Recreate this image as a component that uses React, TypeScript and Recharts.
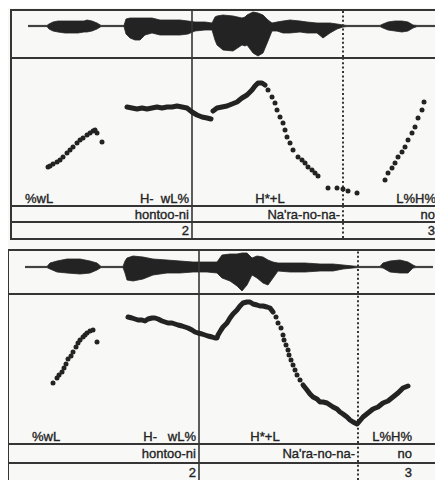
import React from 'react';
import { ComposedChart, Area, Line, Scatter, XAxis, YAxis, ReferenceLine } from 'recharts';

type Pt = [number, number];

// ---------- upper panel ----------
// waveform envelope (time, upper amplitude, lower amplitude)
const wave1T = [17, 36, 38, 42, 47, 54, 61, 67, 73, 76, 81, 86, 90, 113, 115, 119, 124, 129, 134, 141, 149, 159, 169, 177, 184, 194, 201, 204, 206, 212, 222, 231, 234, 236, 242, 247, 252, 257, 261, 266, 272, 279, 289, 296, 306, 312, 319, 326, 332, 336, 369, 372, 377, 384, 391, 397, 402, 406, 424];
const wave1Hi = [0.6, 0.6, 2, 4, 5, 5, 5, 5, 5, 6, 5, 3, 0.6, 0.6, 7, 8, 8, 8, 8, 8, 6, 6, 6, 5, 4, 4, 3, 9, 10, 11, 10, 8, 9, 11, 14, 13, 11, 6, 3, 4, 5, 6, 5, 4, 3, 3, 3, 2, 1, 0.6, 0.6, 2, 4, 5, 5, 4, 1, 0.6, 0.6];
const wave1Lo = [-0.6, -0.6, -3, -5, -6, -7, -7, -7, -6, -6, -5, -3, -0.6, -0.6, -8, -12, -14, -14, -9, -7, -9, -9, -9, -8, -5, -4, -4, -14, -19, -24, -25, -19, -20, -19, -27, -30, -27, -15, -5, -5, -7, -7, -6, -7, -7, -12, -7, -3, -1, -0.6, -0.6, -2, -4, -5, -6, -5, -2, -0.6, -0.6];

// F0 track (time, F0)
const p1Rise: Pt[] = [[37, 39], [39, 40], [42, 42], [46, 44], [49, 46], [52, 49], [56, 53], [59, 56], [62, 59], [66, 63], [69, 66], [72, 68], [76, 71], [79, 73], [82, 75], [84, 76], [86, 73], [91, 64]];
const p1Plateau: Pt[] = [[116, 99], [121, 98], [126, 97], [131, 98], [136, 97], [141, 98], [146, 99], [151, 98], [156, 99], [161, 99], [166, 100], [171, 99], [176, 98], [181, 94], [186, 91], [191, 89], [196, 88], [200, 87]];
const p1Peak: Pt[] = [[202, 95], [206, 98], [211, 99], [216, 100], [221, 102], [226, 104], [231, 108], [236, 111], [241, 116], [244, 120], [247, 123], [251, 123], [254, 121]];
const p1Fall: Pt[] = [[257, 116], [261, 109], [264, 103], [266, 96], [269, 89], [272, 83], [274, 76], [276, 69], [279, 63], [282, 56], [287, 49], [291, 46], [294, 43], [297, 39], [301, 36], [304, 33], [307, 30]];
const p1Low: Pt[] = [[317, 18], [326, 18], [332, 17], [337, 15], [346, 13]];
const p1Final: Pt[] = [[374, 26], [377, 33], [381, 38], [384, 43], [387, 49], [391, 54], [394, 59], [397, 66], [401, 73], [404, 79], [407, 88], [411, 96], [413, 104]];

const p1Bounds: [number, number] = [181, 332];
const p1ToneText = ['%wL', 'H-  wL%', 'H*+L', 'L%H%'];
const p1ToneT = [14, 181, 259, 428];
const p1WordText = ['hontoo-ni', "Na'ra-no-na-", 'no'];
const p1WordT = [181, 332, 427];
const p1BreakText = ['2', '3'];
const p1BreakT = [181, 427];

// ---------- lower panel ----------
const wave2T = [17, 39, 42, 49, 59, 72, 82, 89, 93, 115, 117, 119, 125, 135, 145, 159, 172, 185, 199, 209, 214, 222, 229, 234, 239, 244, 249, 255, 260, 265, 270, 282, 297, 312, 325, 335, 345, 350, 372, 375, 382, 392, 400, 405, 408, 425];
const wave2Hi = [0.6, 0.6, 4, 6, 8, 8, 6, 4, 0.6, 0.6, 6, 9, 11, 10, 8, 7, 6, 5, 5, 5, 12, 13, 13, 14, 14, 9, 11, 10, 7, 5, 4, 4, 4, 3, 3, 2, 1, 0.6, 0.6, 4, 6, 7, 5, 2, 0.6, 0.6];
const wave2Lo = [-0.6, -0.6, -2, -5, -6, -7, -6, -3, -0.6, -0.6, -6, -13, -14, -12, -8, -6, -6, -5, -5, -6, -11, -14, -19, -24, -18, -8, -11, -16, -18, -11, -4, -5, -5, -4, -4, -2, -1, -0.6, -0.6, -1, -5, -6, -6, -1, -0.6, -0.6];

const p2Rise: Pt[] = [[45, 61], [49, 66], [51, 69], [54, 72], [56, 76], [58, 80], [60, 85], [63, 88], [65, 92], [68, 97], [70, 101], [72, 104], [75, 107], [77, 109], [79, 111], [82, 113], [85, 114], [89, 102]];
const p2Contour: Pt[] = [[120, 127], [124, 126], [127, 125], [130, 124], [134, 124], [137, 123], [140, 125], [144, 126], [147, 126], [150, 125], [154, 123], [157, 122], [160, 121], [164, 121], [167, 120], [170, 119], [174, 118], [177, 117], [180, 116], [184, 114], [187, 112], [190, 111], [194, 110], [197, 109], [200, 108], [204, 107], [207, 106], [209, 106], [210, 109], [213, 114], [215, 117], [219, 121], [222, 126], [225, 130], [229, 134], [232, 138], [235, 141], [239, 142], [242, 142], [245, 140], [249, 139], [252, 138], [255, 138], [259, 137], [262, 136], [265, 132]];
const p2Fall: Pt[] = [[268, 127], [270, 121], [273, 116], [275, 109], [276, 104], [278, 99], [280, 94], [281, 89], [283, 84], [285, 79], [287, 74], [289, 69], [292, 64]];
const p2Valley: Pt[] = [[295, 59], [299, 54], [302, 50], [305, 47], [309, 45], [312, 42], [315, 42], [319, 41], [322, 39], [325, 37], [329, 35], [332, 32], [335, 30], [339, 27], [342, 24], [345, 22], [349, 20], [350, 21], [355, 27], [360, 31], [365, 35], [370, 37], [375, 41], [380, 43], [385, 47], [390, 51], [395, 56], [400, 58]];

const p2Bounds: [number, number] = [191, 350];
const p2ToneText = ['%wL', 'H-   wL%', 'H*+L', 'L%H%'];
const p2ToneT = [24, 191, 257, 407];
const p2WordText = ['hontoo-ni', "Na'ra-no-na-", 'no'];
const p2WordT = [191, 350, 407];
const p2BreakText = ['2', '3'];
const p2BreakT = [191, 407];

// ---------- drawing ----------
const INK = '#232323';
const RULE = '#353535';
const FONT = '"Liberation Sans", Arial, sans-serif';
const W = 440;
const M = { top: 0, right: 0, bottom: 0, left: 0 };
const TONE_ANCHORS = ['start', 'end', 'middle', 'end'];

const toPts = (seg: Pt[]) => seg.map(([t, f]) => ({ t, f }));
const toLabels = (text: string[], ts: number[], f: number, anchors?: string[]) =>
  text.map((s, i) => ({ t: ts[i], f, text: s, anchor: anchors ? anchors[i] : 'end' }));

const dotShape = (p: any) => <circle cx={p.cx} cy={p.cy} r={2.5} fill={INK} />;
const textShape = (p: any) => {
  const d = p.payload;
  return (
    <text
      x={p.cx + (d.anchor === 'end' ? -3 : 0)}
      y={p.cy}
      dy="0.36em"
      textAnchor={d.anchor}
      fontSize={13}
      fontFamily={FONT}
      fill={INK}
      stroke={INK}
      strokeWidth={0.35}
      style={{ whiteSpace: 'pre' }}
    >
      {d.text}
    </text>
  );
};

const xAxis = <XAxis type="number" dataKey="t" domain={[1, 1 + W]} allowDataOverflow hide />;

const boundaries = (b: [number, number]) => [
  <ReferenceLine key="solid" x={b[0]} stroke={RULE} strokeWidth={1.6} />,
  <ReferenceLine key="dotted" x={b[1]} stroke={RULE} strokeWidth={2} strokeDasharray="2 2.4" />,
];

type PanelProps = {
  left: number; top: number;
  waveH: number; pitchH: number; wordH: number; breakH: number;
  waveDomain: [number, number]; pitchDomain: [number, number];
  waveT: number[]; waveHi: number[]; waveLo: number[];
  dense: Pt[][]; dots: Pt[][];
  bounds: [number, number];
  toneText: string[]; toneT: number[];
  wordText: string[]; wordT: number[];
  breakText: string[]; breakT: number[];
};

function LabelRow({ h, bounds, labels }: { h: number; bounds: [number, number]; labels: any[] }) {
  return (
    <ComposedChart width={W} height={h} margin={M}>
      {xAxis}
      <YAxis type="number" dataKey="f" domain={[0, 1]} allowDataOverflow hide />
      {boundaries(bounds)}
      <Scatter data={labels} dataKey="f" shape={textShape} isAnimationActive={false} />
    </ComposedChart>
  );
}

function Panel(p: PanelProps) {
  const rule = <div style={{ height: 2, background: RULE }} />;
  const wave = p.waveT.map((t, i) => ({ t, amp: [p.waveLo[i], p.waveHi[i]] }));
  return (
    <div style={{ position: 'absolute', left: p.left, top: p.top, width: W, border: `2px solid ${RULE}` }}>
      <ComposedChart width={W} height={p.waveH} margin={M} data={wave}>
        {xAxis}
        <YAxis type="number" domain={p.waveDomain} allowDataOverflow hide />
        {boundaries(p.bounds)}
        <Area dataKey="amp" type="linear" stroke={INK} strokeWidth={0.8} fill={INK} fillOpacity={1} isAnimationActive={false} />
      </ComposedChart>
      {rule}
      <ComposedChart width={W} height={p.pitchH} margin={M}>
        {xAxis}
        <YAxis type="number" dataKey="f" domain={p.pitchDomain} allowDataOverflow hide />
        {boundaries(p.bounds)}
        {p.dense.map((seg, i) => (
          <Line key={'l' + i} data={toPts(seg)} dataKey="f" type="linear" stroke={INK} strokeWidth={5}
            strokeLinecap="round" strokeLinejoin="round" dot={false} isAnimationActive={false} />
        ))}
        {p.dots.map((seg, i) => (
          <Scatter key={'s' + i} data={toPts(seg)} dataKey="f" shape={dotShape} isAnimationActive={false} />
        ))}
        <Scatter data={toLabels(p.toneText, p.toneT, 8, TONE_ANCHORS)} dataKey="f" shape={textShape} isAnimationActive={false} />
      </ComposedChart>
      {rule}
      <LabelRow h={p.wordH} bounds={p.bounds} labels={toLabels(p.wordText, p.wordT, 0.5)} />
      {rule}
      <LabelRow h={p.breakH} bounds={p.bounds} labels={toLabels(p.breakText, p.breakT, 0.5)} />
    </div>
  );
}

export default function App() {
  return (
    <div style={{ position: 'relative', width: 443, height: 480, margin: '-8px 0 0 -8px', overflow: 'hidden', background: '#f8f8f7' }}>
      <Panel
        left={10} top={9}
        waveH={46} pitchH={146} wordH={14} breakH={15}
        waveDomain={[-31, 15]} pitchDomain={[1, 147]}
        waveT={wave1T} waveHi={wave1Hi} waveLo={wave1Lo}
        dense={[p1Plateau, p1Peak]}
        dots={[p1Rise, p1Fall, p1Low, p1Final]}
        bounds={p1Bounds}
        toneText={p1ToneText} toneT={p1ToneT}
        wordText={p1WordText} wordT={p1WordT}
        breakText={p1BreakText} breakT={p1BreakT}
      />
      <Panel
        left={7} top={249}
        waveH={42} pitchH={148} wordH={17} breakH={16}
        waveDomain={[-26, 16]} pitchDomain={[1, 149]}
        waveT={wave2T} waveHi={wave2Hi} waveLo={wave2Lo}
        dense={[p2Contour, p2Valley]}
        dots={[p2Rise, p2Fall]}
        bounds={p2Bounds}
        toneText={p2ToneText} toneT={p2ToneT}
        wordText={p2WordText} wordT={p2WordT}
        breakText={p2BreakText} breakT={p2BreakT}
      />
    </div>
  );
}
